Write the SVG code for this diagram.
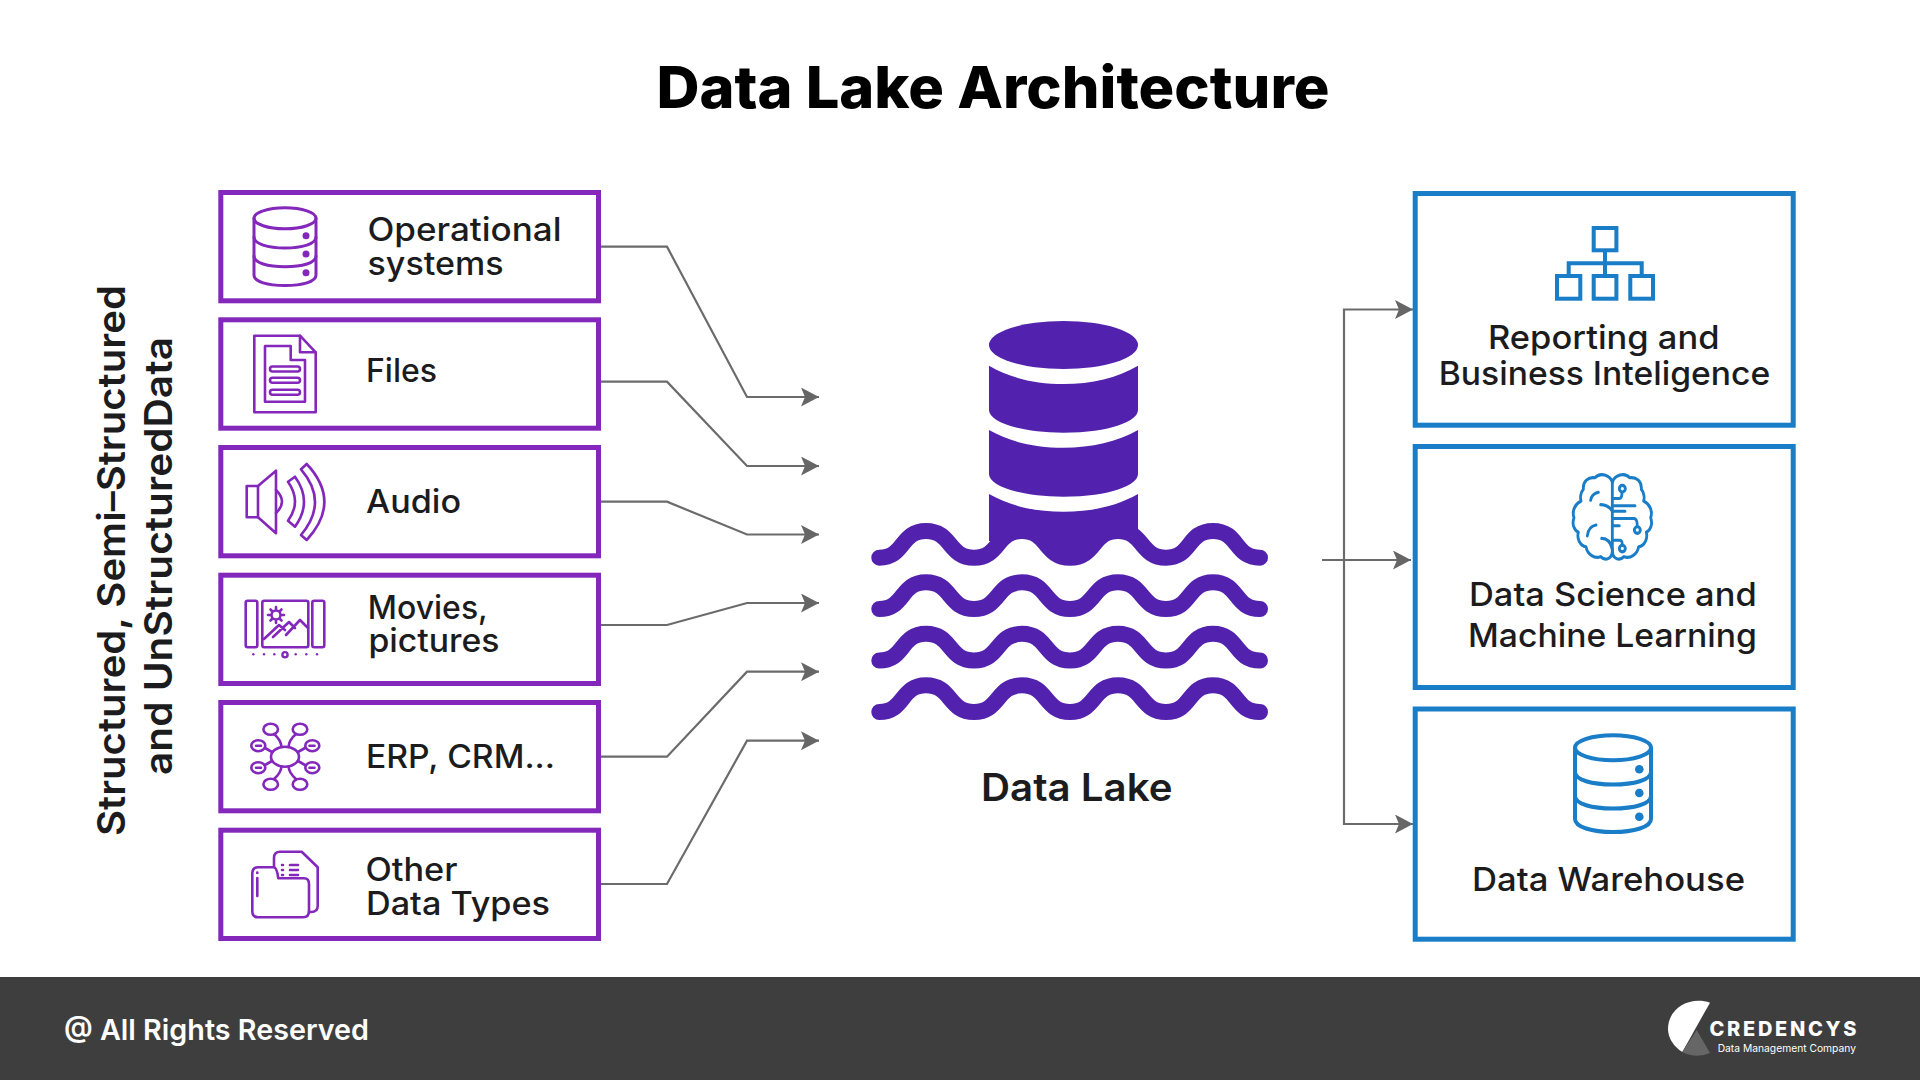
<svg xmlns="http://www.w3.org/2000/svg" width="1920" height="1080" viewBox="0 0 1920 1080">
<style>
text{font-family:Inter,"Noto Sans","Liberation Sans",sans-serif;fill:#1c1c1e;font-weight:500}
.lab{font-size:32px}
.rl{font-size:33px}
.pb{fill:#fff;stroke:#8428bb;stroke-width:5}
.bb{fill:#fff;stroke:#1a7dc8;stroke-width:5}
.pi{fill:none;stroke:#8428bb;stroke-width:2.6;stroke-linejoin:round;stroke-linecap:round}
.bi{fill:none;stroke:#1a7dc8;stroke-width:4;stroke-linejoin:miter}
.pd{fill:#8428bb}
.bd{fill:#1a7dc8}
.con{fill:none;stroke:#6b6b6b;stroke-width:2.2}
.wave{fill:none;stroke:#5222ae;stroke-width:16;stroke-linecap:round}
.cyl{fill:#5222ae}
</style>
<defs>
<marker id="ah" viewBox="0 0 18 19" refX="18" refY="9.5" markerWidth="18" markerHeight="19" markerUnits="userSpaceOnUse" orient="auto"><path d="M0 0L18 9.5L0 19L4 9.5Z" fill="#666"/></marker>
<path id="wv" d="M879.3 0C905 0 900 -26.7 926 -26.7C952 -26.7 948 0 974 0C1000 0 996 -26.7 1022 -26.7C1048 -26.7 1044 0 1070 0C1096 0 1092 -26.7 1118 -26.7C1144 -26.7 1140 0 1166 0C1192 0 1187 -26.7 1213 -26.7C1239 -26.7 1234 0 1260 0"/>
</defs>
<rect width="1920" height="1080" fill="#fff"/>
<text id="title" x="656.5" y="108" font-size="58" style="font-weight:800;fill:#000" textLength="673" lengthAdjust="spacingAndGlyphs">Data Lake Architecture</text>
<g id="side-label">
<text transform="translate(125 836) rotate(-90)" font-size="38" style="font-weight:600" textLength="551" lengthAdjust="spacingAndGlyphs">Structured, Semi–Structured</text>
<text transform="translate(171.500 775) rotate(-90)" font-size="38" style="font-weight:600" textLength="438" lengthAdjust="spacingAndGlyphs">and UnStructuredData</text>
</g>
<g id="connectors">
<path class="con" marker-end="url(#ah)" d="M600 246.7H667L747 397H819"/>
<path class="con" marker-end="url(#ah)" d="M600 381.7H667L747 466H819"/>
<path class="con" marker-end="url(#ah)" d="M600 501.7H667L747 534.500H819"/>
<path class="con" marker-end="url(#ah)" d="M600 625H667L747 603H819"/>
<path class="con" marker-end="url(#ah)" d="M600 756.7H667L747 671.700H819"/>
<path class="con" marker-end="url(#ah)" d="M600 884H667L747 740.700H819"/>
<path class="con" marker-end="url(#ah)" d="M1344 500V309.5H1413"/>
<path class="con" marker-end="url(#ah)" d="M1344 500V824H1413"/>
<path class="con" marker-end="url(#ah)" d="M1322 560H1411"/>
</g>
<g id="node-operational">
<rect class="pb" x="220.8" y="192.5" width="377.7" height="108.3"/>
<g class="pi" style="stroke-width:3">
<ellipse cx="285" cy="218.3" rx="31" ry="10.5"/>
<path d="M254 218.3V275C254 282 268 285.5 285 285.5S316 282 316 275V218.3"/>
<path d="M254 237C254 244 268 248 285 248S316 244 316 237"/>
<path d="M254 256C254 263 268 266.7 285 266.7S316 263 316 256"/>
</g>
<circle class="pd" cx="306" cy="235.7" r="3.5"/><circle class="pd" cx="306" cy="254" r="3.5"/><circle class="pd" cx="306" cy="272.7" r="3.5"/>
<text class="lab" x="367.500" y="240.500" textLength="194" lengthAdjust="spacingAndGlyphs">Operational</text>
<text class="lab" x="367.500" y="274.500" textLength="136" lengthAdjust="spacingAndGlyphs">systems</text>
</g>
<g id="node-files">
<rect class="pb" x="220.8" y="319.8" width="377.7" height="108.4"/>
<g class="pi">
<path d="M254.3 335.7H300L315.7 352.3V412.3H254.3Z"/>
<path d="M300 335.7V352.3H315.7"/>
<path d="M265 346H290.7V360H305V401.7H265Z"/>
<rect x="270" y="366.5" width="30" height="5" rx="2.5"/>
<rect x="270" y="377.8" width="30" height="5" rx="2.5"/>
<rect x="270" y="389.8" width="30" height="5" rx="2.5"/>
</g>
<text class="lab" x="366" y="382.200" textLength="71" lengthAdjust="spacingAndGlyphs">Files</text>
</g>
<g id="node-audio">
<rect class="pb" x="220.8" y="447.5" width="377.7" height="108.3"/>
<g class="pi">
<path d="M246.7 486H258V517.3H246.7Z"/>
<path d="M258 486L276 470.7V533.3L258 517.3"/>
<path d="M276 490Q288 501.7 276 513"/>
<path d="M288 481.7L295 476.7Q313 501.7 295 526.7L288 520.7Q302 501.7 288 481.7Z"/>
<path d="M301 469.3L306.7 464Q342 501.7 306.7 540L301 535Q329 501.7 301 469.3Z"/>
</g>
<text class="lab" x="366" y="513" textLength="95" lengthAdjust="spacingAndGlyphs">Audio</text>
</g>
<g id="node-movies">
<rect class="pb" x="220.8" y="575.2" width="377.7" height="108.3"/>
<g class="pi">
<rect x="245.7" y="600.7" width="11.6" height="46.6" rx="2"/>
<rect x="262.3" y="600.7" width="46" height="46.6" rx="2"/>
<rect x="312.3" y="600.7" width="12" height="46.6" rx="2"/>
<path d="M264 639L279 625L285 630M273 637L289 622L295 628M286 635L300 620L308 628"/>
<circle cx="276" cy="615" r="4.5"/>
<path d="M276 607V609M276 621V623M268 615H270M282 615H284M270.5 609.5L272 611M280 619L281.5 620.5M281.5 609.5L280 611M272 619L270.5 620.5"/>
<circle cx="285" cy="654.7" r="2.6" style="stroke-width:2.4"/>
</g>
<g class="pd"><circle cx="253.3" cy="654.3" r="1.2"/><circle cx="264" cy="654.3" r="1.2"/><circle cx="274.3" cy="654.3" r="1.2"/><circle cx="295.7" cy="654.3" r="1.2"/><circle cx="306.3" cy="654.3" r="1.2"/><circle cx="317" cy="654.3" r="1.2"/></g>
<text class="lab" x="367.800" y="618.500" textLength="120" lengthAdjust="spacingAndGlyphs">Movies,</text>
<text class="lab" x="368.500" y="652.200" textLength="131" lengthAdjust="spacingAndGlyphs">pictures</text>
</g>
<g id="node-erp">
<rect class="pb" x="220.8" y="702.5" width="377.7" height="108.3"/>
<g class="pi">
<ellipse cx="285" cy="756.7" rx="14" ry="10"/>
<ellipse cx="270.7" cy="729.3" rx="7.3" ry="5.5"/><ellipse cx="300" cy="729.3" rx="7.3" ry="5.5"/>
<ellipse cx="258.3" cy="745.7" rx="7" ry="5.5"/><ellipse cx="312.3" cy="745.7" rx="7" ry="5.5"/>
<ellipse cx="258.3" cy="767.7" rx="7" ry="5.5"/><ellipse cx="312.3" cy="767.7" rx="7" ry="5.5"/>
<ellipse cx="270.7" cy="784.3" rx="7.3" ry="5.5"/><ellipse cx="300" cy="784.3" rx="7.3" ry="5.5"/>
<path d="M274 734Q281 740 281.5 747M296 734Q289 740 288.5 747M265 748L272 752M305 748L298 752M265 765L272 761M305 765L298 761M274 779Q281 773 281.5 766.500M296 779Q289 773 288.500 766.500"/>
<path d="M256 745.700H261M309.500 745.700H314.500M256 767.700H261M309.500 767.700H314.500"/>
</g>
<text class="lab" x="366" y="768" textLength="189" lengthAdjust="spacingAndGlyphs">ERP, CRM...</text>
</g>
<g id="node-other">
<rect class="pb" x="220.8" y="830.200" width="377.7" height="108.3"/>
<g class="pi">
<path d="M252.300 873Q252.300 867.300 258 867.300H274Q277 868 278.300 878.300H304Q309 878.300 309 884V911Q309 917.300 303 917.300H258Q252.300 917.300 252.300 911Z"/>
<path d="M274 867V858Q274 851.700 280 851.700H301.700L317.700 867.300V906Q317.700 912 311 912H309"/>
<path d="M282 865H283M282 870H283M282 875H283M290 865H298M290 870H298M290 875H298"/>
<path d="M257.300 878V896M257.300 872.500V873"/>
</g>
<text class="lab" x="365.500" y="881.200" textLength="92" lengthAdjust="spacingAndGlyphs">Other</text>
<text class="lab" x="366" y="914.500" textLength="184" lengthAdjust="spacingAndGlyphs">Data Types</text>
</g>
<g id="node-lake">
<ellipse class="cyl" cx="1063.500" cy="345" rx="74.500" ry="24"/>
<path class="cyl" d="M989 365.700C1010 378 1035 384 1063.500 384S1117 378 1138 365.700V410C1138 421 1110 432.700 1063.500 432.700S989 421 989 410Z"/>
<path class="cyl" d="M989 430C1010 442 1035 447.700 1063.500 447.700S1117 442 1138 430V474C1138 485 1110 496.700 1063.500 496.700S989 485 989 474Z"/>
<path class="cyl" d="M989 494C1010 506 1035 511.700 1063.500 511.700S1117 506 1138 494V535L1118 531C1092 531 1096 557.700 1070 557.700C1044 557.700 1048 531 1022 531C1005 531 1000 545 989 541Z"/>
<g class="wave">
<use href="#wv" y="557.700"/><use href="#wv" y="609"/><use href="#wv" y="660.500"/><use href="#wv" y="712"/>
</g>
<text x="981" y="801" font-size="38" style="font-weight:600" textLength="191.500" lengthAdjust="spacingAndGlyphs">Data Lake</text>
</g>
<g id="node-reporting">
<rect class="bb" x="1415.200" y="193.500" width="378" height="231.700"/>
<g class="bi">
<rect x="1593.700" y="228" width="22.700" height="22.300"/>
<rect x="1557" y="276" width="23.300" height="22.700"/>
<rect x="1593.700" y="276" width="22.700" height="22.700"/>
<rect x="1630.300" y="276" width="22.700" height="22.700"/>
<path d="M1605 250V276M1568.700 276V263.300H1641.700V276"/>
</g>
<text class="rl" x="1488" y="348.900" textLength="231.500" lengthAdjust="spacingAndGlyphs">Reporting and</text>
<text class="rl" x="1438.700" y="384.500" textLength="331.500" lengthAdjust="spacingAndGlyphs">Business Inteligence</text>
</g>
<g id="node-science">
<rect class="bb" x="1415.200" y="446.500" width="378" height="241"/>
<g transform="translate(1560 464) scale(.3333 .363)" style="fill:none;stroke:#1a7dc8;stroke-width:8.500;stroke-linecap:round;stroke-linejoin:round">
<path d="M157 50C150 30 120 22 105 38C85 35 68 48 70 70C62 78 60 92 63 102C45 110 35 130 42 148C35 165 42 182 55 188C50 205 60 225 78 228C82 250 105 262 122 255C135 268 157 262 157 240Z"/>
<path d="M157 50C164 30 194 22 209 38C229 35 246 48 244 70C252 78 254 92 251 102C269 110 279 130 272 148C279 165 272 182 259 188C264 205 254 225 236 228C232 250 209 262 192 255C179 268 157 262 157 240"/>
<path d="M92 100Q95 82 115 78M122 112Q145 112 157 130M82 198Q85 172 108 168M125 205Q150 205 157 235"/>
<path d="M157 115H225M157 130H195M157 150H222Q232 150 232 172M157 170H178M157 210H180Q187 210 187 224M157 95H178Q186 95 186 78"/>
<circle cx="187" cy="68" r="9"/><circle cx="232" cy="182" r="9"/><circle cx="187" cy="233" r="9"/>
</g>
<text class="rl" x="1469" y="606.200" textLength="287.700" lengthAdjust="spacingAndGlyphs">Data Science and</text>
<text class="rl" x="1468" y="647.200" textLength="289" lengthAdjust="spacingAndGlyphs">Machine Learning</text>
</g>
<g id="node-warehouse">
<rect class="bb" x="1415.200" y="709" width="378" height="230.200"/>
<g class="bi">
<ellipse cx="1613" cy="747.700" rx="38" ry="12.500"/>
<path d="M1575 747.700V819C1575 827 1592 832 1613 832S1651 827 1651 819V747.700"/>
<path d="M1575 772C1575 780 1592 784.500 1613 784.500S1651 780 1651 772"/>
<path d="M1575 796C1575 804 1592 808.500 1613 808.500S1651 804 1651 796"/>
</g>
<circle class="bd" cx="1639.300" cy="769.300" r="4.300"/><circle class="bd" cx="1639.300" cy="793" r="4.300"/><circle class="bd" cx="1639.300" cy="816.700" r="4.300"/>
<text class="rl" x="1472" y="890.900" textLength="273" lengthAdjust="spacingAndGlyphs">Data Warehouse</text>
</g>
<g id="footer">
<rect x="0" y="977" width="1920" height="103" fill="#3e3e3e"/>
<text x="64" y="1040" font-size="29" style="font-weight:600;fill:#fff" textLength="305" lengthAdjust="spacingAndGlyphs">@ All Rights Reserved</text>
<path d="M1710 1002.700C1690 996 1668 1008 1668 1029C1668 1038 1674 1047 1682.300 1052Z" fill="#fff"/>
<path d="M1696.700 1030L1710 1053Q1696 1059 1682.300 1052Z" fill="#666"/>
<text x="1709.500" y="1035.700" font-size="20" style="font-weight:800;fill:#fff" textLength="147" lengthAdjust="spacing">CREDENCYS</text>
<text x="1717.700" y="1051.700" font-size="10.500" style="font-weight:400;fill:#fff" textLength="138.300" lengthAdjust="spacingAndGlyphs">Data Management Company</text>
</g>
</svg>
